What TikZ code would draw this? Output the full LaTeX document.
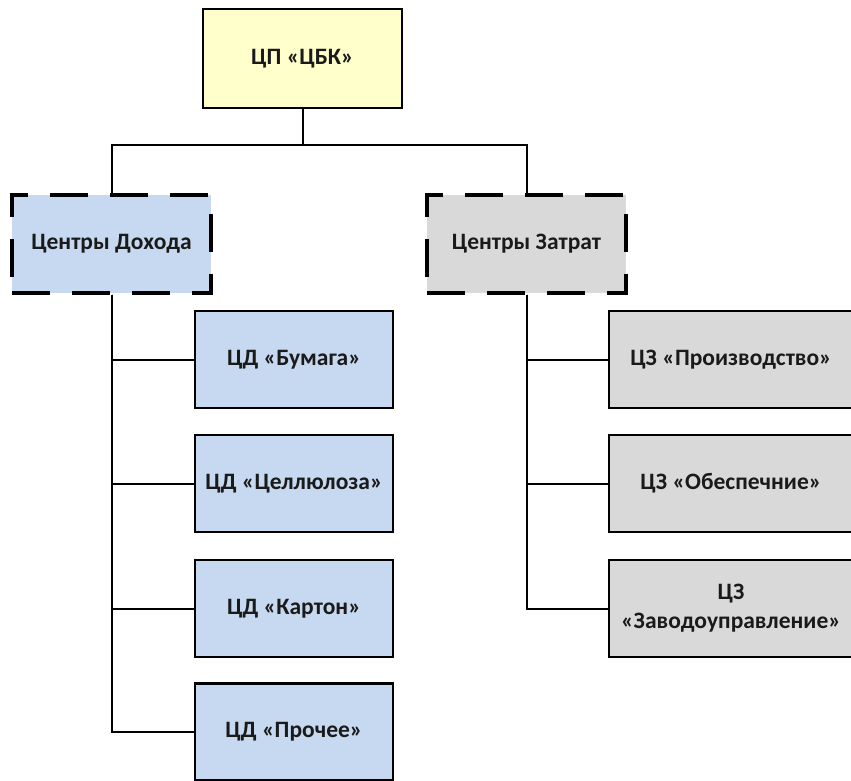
\documentclass[tikz,border=0pt]{standalone}
\usepackage{fontspec}
\setmainfont{Carlito}
\definecolor{topfill}{HTML}{FFFFCC}
\definecolor{incfill}{HTML}{C6D9F0}
\definecolor{costfill}{HTML}{D9D9D9}
\definecolor{ink}{HTML}{1A1A1A}
\begin{document}
\begin{tikzpicture}[x=1pt,y=-1pt,
  box/.style={draw=black,line width=2.4pt,minimum height=97pt,align=center,
    text=ink,font=\fontsize{23.5}{29}\selectfont\bfseries,inner sep=2pt},
  topbox/.style={box,fill=topfill,minimum width=199pt,minimum height=99pt},
  groupbox/.style={box,line width=3.2pt,dash pattern=on 38pt off 22pt,minimum width=199pt,minimum height=98pt},
  incbox/.style={box,fill=incfill,minimum width=198pt},
  costbox/.style={box,fill=costfill,minimum width=244pt},
  link/.style={draw=black,line width=2pt}]
\useasboundingbox (0,0) rectangle (851,781);
\clip (0,0) rectangle (851,781);
\fill[white] (0,0) rectangle (851,781);

% root
\node[topbox] (root) at (302.5,58.5) {ЦП «ЦБК»};
\coordinate (bus) at (302.5,145);

% two groups
\node[groupbox,fill=incfill] (inc) at (111.5,244) {Центры Дохода};
\node[groupbox,fill=costfill] (cost) at (526.5,244) {Центры Затрат};

% revenue centres
\node[incbox] (i1) at (294,359.5) {ЦД «Бумага»};
\node[incbox] (i2) at (294,483.5) {ЦД «Целлюлоза»};
\node[incbox] (i3) at (294,608.5) {ЦД «Картон»};
\node[incbox] (i4) at (294,732) {ЦД «Прочее»};

% cost centres
\node[costbox] (c1) at (731,359.5) {ЦЗ «Производство»};
\node[costbox] (c2) at (731,483.5) {ЦЗ «Обеспечние»};
\node[costbox] (c3) at (731,608.5) {ЦЗ\\«Заводоуправление»};

% connectors
\draw[link] (root.south) -- (bus);
\draw[link] (bus) -| (inc.north);
\draw[link] (bus) -| (cost.north);
\foreach \n in {i1,i2,i3,i4} \draw[link] (inc.south) |- (\n.west);
\foreach \n in {c1,c2,c3} \draw[link] (cost.south) |- (\n.west);
\end{tikzpicture}
\end{document}
